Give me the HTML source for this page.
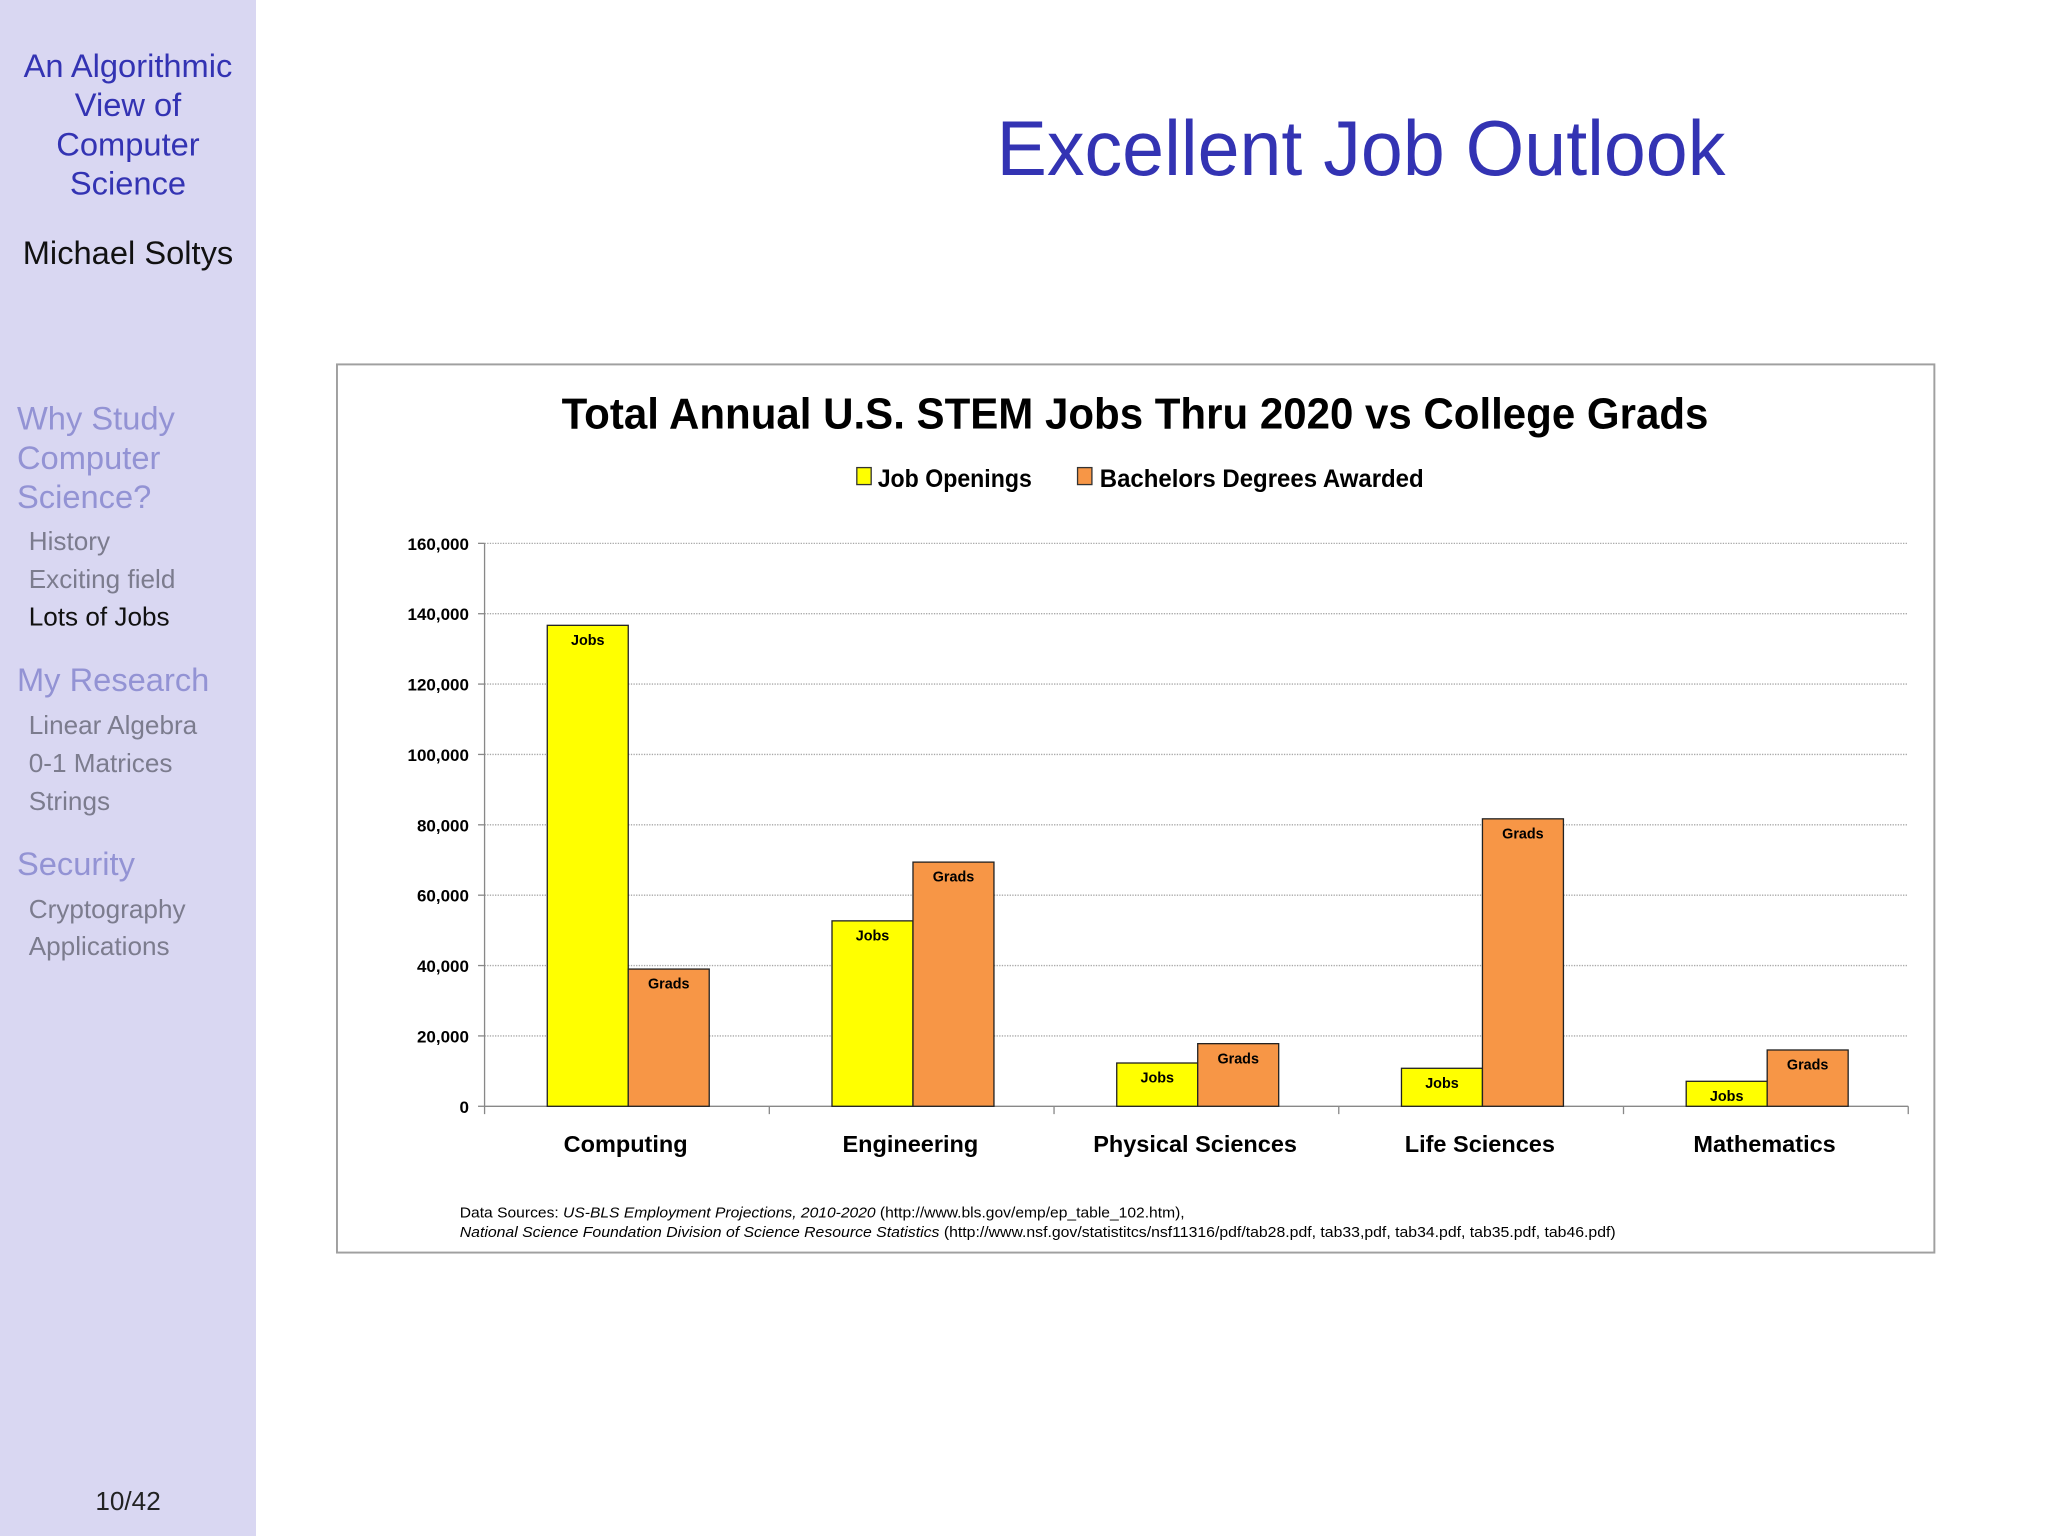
<!DOCTYPE html>
<html><head><meta charset="utf-8">
<style>
html,body{margin:0;padding:0;width:2048px;height:1536px;overflow:hidden;background:#fff;}
#stage{position:absolute;left:0;top:0;width:1568px;height:1176px;transform:scale(1.306122);transform-origin:0 0;font-family:"Liberation Sans","DejaVu Sans",sans-serif;}
#side{position:absolute;left:0;top:0;width:196px;height:1176px;background:#d9d7f2;}
.t{position:absolute;white-space:nowrap;}
</style></head><body>
<div id="stage">
<div id="side">
  <div class="t" style="left:0;width:196px;top:36px;text-align:center;font-size:25px;line-height:30px;color:#3333b3;">An Algorithmic<br>View of<br>Computer<br>Science</div>
  <div class="t" style="left:0;width:196px;top:180px;text-align:center;font-size:25px;color:#111;">Michael Soltys</div>
  <div class="t" style="left:13px;top:306px;font-size:25px;line-height:30px;color:#9393d4;">Why Study<br>Computer<br>Science?</div>
  <div class="t" style="left:22px;top:404px;font-size:20px;color:#7c7c8e;">History</div>
  <div class="t" style="left:22px;top:433px;font-size:20px;color:#7c7c8e;">Exciting field</div>
  <div class="t" style="left:22px;top:462px;font-size:20px;color:#111;">Lots of Jobs</div>
  <div class="t" style="left:13px;top:507px;font-size:25px;color:#9393d4;">My Research</div>
  <div class="t" style="left:22px;top:545px;font-size:20px;color:#7c7c8e;">Linear Algebra</div>
  <div class="t" style="left:22px;top:574px;font-size:20px;color:#7c7c8e;">0-1 Matrices</div>
  <div class="t" style="left:22px;top:603px;font-size:20px;color:#7c7c8e;">Strings</div>
  <div class="t" style="left:13px;top:648px;font-size:25px;color:#9393d4;">Security</div>
  <div class="t" style="left:22px;top:686px;font-size:20px;color:#7c7c8e;">Cryptography</div>
  <div class="t" style="left:22px;top:714px;font-size:20px;color:#7c7c8e;">Applications</div>
  <div class="t" style="left:73px;top:1139px;font-size:20px;color:#222;">10/42</div>
</div>
<svg id="chart" style="position:absolute;left:0;top:0" width="1568" height="1176" font-family="Liberation Sans, DejaVu Sans, sans-serif">
<text x="763" y="134" font-size="60" fill="#3333b3" textLength="558" lengthAdjust="spacingAndGlyphs">Excellent Job Outlook</text>
</svg>
</div>
<script>
const categories=["Computing","Engineering","Physical Sciences","Life Sciences","Mathematics"];
const jobs=[136700,52700,12300,10800,7100];
const grads=[39000,69400,17800,81700,16000];
const yTicks=[0,20000,40000,60000,80000,100000,120000,140000,160000];
const seriesNames=["Job Openings","Bachelors Degrees Awarded"];

const NS="http://www.w3.org/2000/svg";
const svg=document.getElementById('chart');
function mk(tag,attrs,text){const e=document.createElementNS(NS,tag);for(const k in attrs)e.setAttribute(k,attrs[k]);if(text!==undefined)e.textContent=text;svg.appendChild(e);return e;}
const X0=371,X1=1461,Y0=847,Y1=416,YMAX=160000;
const y=v=>Y0-(v/YMAX)*(Y0-Y1);
const band=(X1-X0)/categories.length;
const bw=62;
const xc=i=>X0+band*(i+0.5);

let e=mk('rect',{x:258,y:279,width:1223,height:680,fill:'#fff',stroke:'#a0a0a0','stroke-width':1.5});


e=mk('text',{x:869,y:328,'text-anchor':'middle','font-size':33,'font-weight':'bold',fill:'#000',textLength:878,lengthAdjust:'spacingAndGlyphs'},'Total Annual U.S. STEM Jobs Thru 2020 vs College Grads');



e=mk('rect',{x:656,y:358,width:11,height:13,fill:'#ffff00',stroke:'#333'});


e=mk('text',{x:672,y:373,'font-size':19,'font-weight':'bold',textLength:118,lengthAdjust:'spacingAndGlyphs'},seriesNames[0]);


e=mk('rect',{x:825,y:358,width:11,height:13,fill:'#f79646',stroke:'#333'});


e=mk('text',{x:842,y:373,'font-size':19,'font-weight':'bold',textLength:248,lengthAdjust:'spacingAndGlyphs'},seriesNames[1]);



yTicks.forEach(v=>{
  if(v>0){const g=mk('line',{x1:X0,x2:X1,y1:y(v),y2:y(v),stroke:'#a8a8a8','stroke-width':1,'stroke-dasharray':'1,1'});
  
  }
  const tk=mk('line',{x1:X0-5,x2:X0,y1:y(v),y2:y(v),stroke:'#888'});
  
  
  const t=mk('text',{x:359,y:y(v)+5,'text-anchor':'end','font-size':13,'font-weight':'bold'},v.toLocaleString('en-US'));
  
  
});
e=mk('line',{x1:X0,x2:X0,y1:Y1,y2:Y0,stroke:'#888'});


e=mk('line',{x1:X0,x2:X1,y1:Y0,y2:Y0,stroke:'#888'});


for(let i=0;i<=categories.length;i++){
  const tk=mk('line',{x1:X0+band*i,x2:X0+band*i,y1:Y0,y2:Y0+6,stroke:'#888'});
  
  
}
categories.forEach((c,i)=>{
  const cx=xc(i)+1;
  const b1=mk('rect',{x:cx-bw,y:y(jobs[i]),width:bw,height:Y0-y(jobs[i]),fill:'#ffff00',stroke:'#222','stroke-width':1});
  
  
  const b2=mk('rect',{x:cx,y:y(grads[i]),width:bw,height:Y0-y(grads[i]),fill:'#f79646',stroke:'#222','stroke-width':1});
  
  
  const l1=mk('text',{x:cx-bw/2,y:y(jobs[i])+15,'text-anchor':'middle','font-size':11,'font-weight':'bold'},'Jobs');
  
  
  const l2=mk('text',{x:cx+bw/2,y:y(grads[i])+15,'text-anchor':'middle','font-size':11,'font-weight':'bold'},'Grads');
  
  
  const cl=mk('text',{x:cx-2,y:882,'text-anchor':'middle','font-size':18,'font-weight':'bold'},c);
  
  
});
e=mk('text',{x:352,y:932,'font-size':11.5,textLength:555,lengthAdjust:'spacingAndGlyphs'});
e.innerHTML='Data Sources: <tspan font-style="italic">US-BLS Employment Projections, 2010-2020</tspan> (http://www.bls.gov/emp/ep_table_102.htm),';


e=mk('text',{x:352,y:947,'font-size':11.5,textLength:885,lengthAdjust:'spacingAndGlyphs'});
e.innerHTML='<tspan font-style="italic">National Science Foundation Division of Science Resource Statistics</tspan> (http://www.nsf.gov/statistitcs/nsf11316/pdf/tab28.pdf, tab33,pdf, tab34.pdf, tab35.pdf, tab46.pdf)';


</script>
</body></html>
